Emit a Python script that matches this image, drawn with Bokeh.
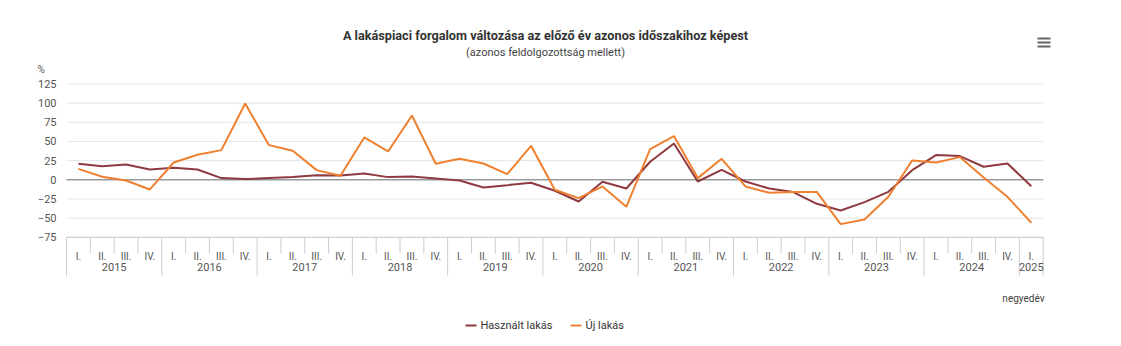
import numpy as np
from bokeh.plotting import figure
from bokeh.models import Range1d
from bokeh.core.properties import value
from bokeh.embed import file_html
from bokeh.resources import INLINE

# ---------------- data ----------------
years = ["2015", "2016", "2017", "2018", "2019", "2020", "2021", "2022", "2023", "2024", "2025"]
quarters_per_year = [4, 4, 4, 4, 4, 4, 4, 4, 4, 4, 1]
quarter_names = ["I.", "II.", "III.", "IV."]

used = [20.9, 17.8, 20.0, 13.5, 15.6, 13.5, 2.2, 0.9,
        2.2, 3.5, 6.0, 5.6, 8.3, 3.5, 4.3, 1.7,
        -0.9, -10.0, -7.0, -3.9, -14.3, -28.3, -2.6, -11.3,
        23.5, 47.4, -2.2, 13.0, -2.2, -11.3, -16.0, -31.3,
        -40.0, -29.1, -15.7, 12.6, 32.2, 30.9, 17.0, 21.3, -8.3]
new = [14.3, 3.9, -0.9, -12.6, 22.6, 32.6, 38.7, 99.6,
       45.2, 37.8, 12.6, 5.2, 55.2, 37.0, 83.9, 20.9,
       27.4, 21.3, 7.4, 44.3, -13.0, -23.9, -8.7, -35.2,
       40.0, 57.0, 2.2, 27.4, -8.7, -17.0, -16.0, -16.0,
       -57.8, -51.7, -22.2, 25.2, 22.6, 29.6, 3.0, -22.2, -56.0]
y_ticks = [125, 100, 75, 50, 25, 0, -25, -50, -75]

title = "A lakáspiaci forgalom változása az előző év azonos időszakihoz képest"
subtitle = "(azonos feldolgozottság mellett)"
series_names = ["Használt lakás", "Új lakás"]
series_colors = ["#8f3a3f", "#ef8030"]

# ---------------- geometry helpers (screen px -> data) ----------------
W, H = 1121, 346
LEFT, RIGHT = 66.0, 1042.7
N = len(used)
PX_X = (RIGHT - LEFT) / N
Y0, PX_Y = 179.3, 19.17 / 25.0

def xd(px):
    return (px - LEFT) / PX_X - 0.5

def yd(py):
    return (Y0 - py) / PX_Y

FONT = value("Roboto")

p = figure(width=W, height=H, output_backend="svg", toolbar_location=None,
           x_axis_type=None, y_axis_type=None,
           x_range=Range1d(xd(0), xd(W)), y_range=Range1d(yd(H), yd(0)),
           min_border=0, min_border_left=0, min_border_right=0,
           min_border_top=0, min_border_bottom=0)
p.outline_line_color = None
p.grid.visible = False
p.background_fill_color = "white"
p.border_fill_color = "white"

x = np.arange(N)
x_lo, x_hi = -0.5, N - 0.5

# grid lines
grid_y = [t for t in y_ticks if t != 0]
p.segment(x0=[x_lo] * len(grid_y), x1=[x_hi] * len(grid_y), y0=grid_y, y1=grid_y,
          line_color="#e6e6e6", line_width=1)
p.segment(x0=[x_lo], x1=[x_hi], y0=[min(y_ticks)], y1=[min(y_ticks)],
          line_color="#cccccc", line_width=1)
p.segment(x0=[x_lo], x1=[x_hi], y0=[0], y1=[0], line_color="#999999", line_width=1.6)

# y tick labels
p.text(x=[xd(56)] * len(y_ticks), y=y_ticks, text=[str(t).replace("-", "−") for t in y_ticks],
       text_font=FONT, text_font_size="11px", text_color="#555555",
       text_align="right", text_baseline="middle")
p.text(x=[xd(37)], y=[yd(69)], text=["%"], text_font=FONT, text_font_size="10px",
       text_color="#555555", text_align="left", text_baseline="middle")

# category axis: quarters and years
q_labels, year_x, year_starts = [], [], []
i = 0
for yr, nq in zip(years, quarters_per_year):
    year_starts.append(i)
    year_x.append(i + (nq - 1) / 2.0)
    for q in range(nq):
        q_labels.append(quarter_names[q])
    i += nq

axis_y = min(y_ticks)
short_sep = [k - 0.5 for k in range(1, N) if k not in year_starts]
long_sep = [k - 0.5 for k in year_starts] + [N - 0.5]
p.segment(x0=short_sep, x1=short_sep, y0=[axis_y] * len(short_sep), y1=[yd(253)] * len(short_sep),
          line_color="#cccccc", line_width=1)
p.segment(x0=long_sep, x1=long_sep, y0=[axis_y] * len(long_sep), y1=[yd(275)] * len(long_sep),
          line_color="#cccccc", line_width=1)
p.text(x=x, y=[yd(255.5)] * N, text=q_labels, text_font=FONT, text_font_size="10px",
       text_color="#555555", text_align="center", text_baseline="middle")
p.text(x=year_x, y=[yd(266)] * len(years), text=years, text_font=FONT, text_font_size="11px",
       text_color="#555555", text_align="center", text_baseline="middle")
p.text(x=[xd(1044)], y=[yd(298)], text=["negyedév"], text_font=FONT, text_font_size="10px",
       text_color="#444444", text_align="right", text_baseline="middle")

# series
p.line(x, used, line_color=series_colors[0], line_width=2)
p.line(x, new, line_color=series_colors[1], line_width=2)

# titles
p.text(x=[xd(545)], y=[yd(35)], text=[title], text_font=FONT, text_font_size="12.7px",
       text_font_style="bold", text_color="#333333", text_align="center", text_baseline="middle")
p.text(x=[xd(545)], y=[yd(52)], text=[subtitle], text_font=FONT, text_font_size="11px",
       text_color="#444444", text_align="center", text_baseline="middle")

# legend
leg_y = yd(325)
sym_x0 = [xd(465), xd(570)]
sym_x1 = [xd(476), xd(581)]
p.segment(x0=sym_x0, x1=sym_x1, y0=[leg_y] * 2, y1=[leg_y] * 2,
          line_color=series_colors, line_width=2)
p.text(x=[xd(480), xd(585)], y=[leg_y] * 2, text=series_names, text_font=FONT,
       text_font_size="11px", text_color="#333333", text_align="left", text_baseline="middle")

# menu icon
mx0, mx1 = xd(1037), xd(1050)
p.segment(x0=[mx0] * 3, x1=[mx1] * 3, y0=[yd(38), yd(42), yd(46)], y1=[yd(38), yd(42), yd(46)],
          line_color="#666666", line_width=2)

open("out.html", "w").write(file_html(p, INLINE))
